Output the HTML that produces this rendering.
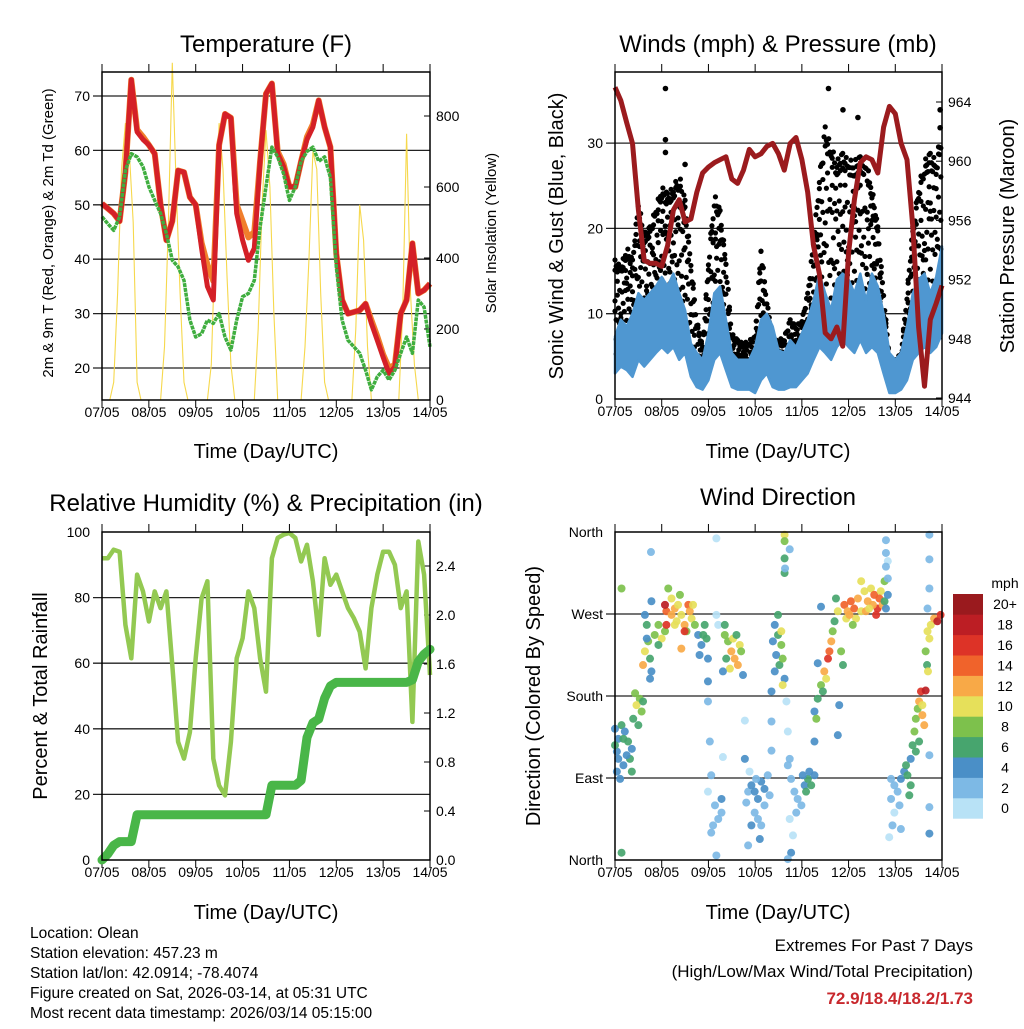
<!DOCTYPE html>
<html><head><meta charset="utf-8"><style>
html,body{margin:0;padding:0;background:#fff;}
svg text{font-family:"Liberation Sans",Arial,sans-serif;fill:#000;}
</style></head><body>
<svg id="fig" width="1024" height="1024" viewBox="0 0 1024 1024" xmlns="http://www.w3.org/2000/svg">
<rect x="0" y="0" width="1024" height="1024" fill="#fff"/>
<g id="g1"></g>
<g id="g2"></g>
<g id="g3"></g>
<g id="g4"></g>
<text x="266" y="52" font-size="24" text-anchor="middle">Temperature (F)</text>
<text x="778" y="52" font-size="24" text-anchor="middle">Winds (mph) &amp; Pressure (mb)</text>
<text x="266" y="511" font-size="24" text-anchor="middle">Relative Humidity (%) &amp; Precipitation (in)</text>
<text x="778" y="505" font-size="24" text-anchor="middle">Wind Direction</text>
<text x="266" y="458" font-size="20" text-anchor="middle">Time (Day/UTC)</text>
<text x="778" y="458" font-size="20" text-anchor="middle">Time (Day/UTC)</text>
<text x="266" y="919" font-size="20" text-anchor="middle">Time (Day/UTC)</text>
<text x="778" y="919" font-size="20" text-anchor="middle">Time (Day/UTC)</text>
<text transform="translate(53,233) rotate(-90)" font-size="15" text-anchor="middle">2m &amp; 9m T (Red, Orange) &amp; 2m Td (Green)</text>
<text transform="translate(496,233) rotate(-90)" font-size="15" text-anchor="middle">Solar Insolation (Yellow)</text>
<text transform="translate(563,236) rotate(-90)" font-size="20" text-anchor="middle">Sonic Wind &amp; Gust (Blue, Black)</text>
<text transform="translate(1014,236) rotate(-90)" font-size="20" text-anchor="middle">Station Pressure (Maroon)</text>
<text transform="translate(47,696) rotate(-90)" font-size="20" text-anchor="middle">Percent &amp; Total Rainfall</text>
<text transform="translate(540,696) rotate(-90)" font-size="20" text-anchor="middle">Direction (Colored By Speed)</text>
<g font-size="15.5">
<text x="30" y="938">Location: Olean</text>
<text x="30" y="958">Station elevation: 457.23 m</text>
<text x="30" y="978">Station lat/lon: 42.0914; -78.4074</text>
<text x="30" y="998">Figure created on Sat, 2026-03-14, at 05:31 UTC</text>
<text x="30" y="1018">Most recent data timestamp: 2026/03/14 05:15:00</text>
</g>
<text x="973" y="951" font-size="17" text-anchor="end">Extremes For Past 7 Days</text>
<text x="973" y="977" font-size="17" text-anchor="end">(High/Low/Max Wind/Total Precipitation)</text>
<text x="973" y="1004" font-size="17" font-weight="bold" text-anchor="end" style="fill:#c8282d">72.9/18.4/18.2/1.73</text>
</svg>
<script>
// ---- data (3-hourly, 57 values over 7 days) ----
const dayLabels = ["07/05","08/05","09/05","10/05","11/05","12/05","13/05","14/05"];
const temp2m = [50.2,49.3,48.4,47,56,73,63.4,62,61,59.4,50,43.5,47,56.3,56,51.4,50,42,35,32.5,61,66.7,66,48.4,43.5,39.8,42,58,70.4,72.3,59.4,57,53.3,53.3,58,62,64.3,69.2,64.3,60.6,41,32.5,30,30.3,30.6,31.8,28.2,25.1,22,19,20.2,30,32.5,42.9,33.7,34.3,35.5];
const temp9m = [50.2,49.3,48.4,47,56,73,63.8,62.5,61,59.4,50,43.5,47,56.3,56,51.4,50,43,39,36,61,66.7,66,50,47,44,45,58,70.4,72.3,59.8,57.5,53.3,53.3,58,62.5,64.8,69.2,64.3,60.6,41,32.5,30,30.3,30.6,31.8,28.8,25.8,22.5,20,20.6,30,32.5,42.9,33.7,34.3,35.5];
const dewpt = [47.8,46.5,45.3,47.8,56.3,59.4,58.8,57,53.3,50.8,48.4,44.7,39.8,38.6,36.1,28.8,25.7,26.3,28.8,28.2,30,25.7,23.3,28.8,33.1,33.7,36.1,45.9,53.3,60.6,58.8,55.7,50.8,53.3,58,59.8,60.6,58,58.8,55,38.6,28.8,25.1,23.9,22.7,19.6,16,18.4,19.6,17.8,19.6,22.7,25.7,22.7,32.5,31.2,23.9];
// solar insolation, 2-hourly (85 values)
const solar = [0,0,0,50,300,650,780,700,500,50,0,0, 0,0,0,0,150,500,950,600,300,50,0,0, 0,0,0,0,100,450,780,650,350,100,0,0, 0,0,0,0,200,550,760,600,250,0,0,0, 0,0,0,0,150,400,700,650,300,50,0,0, 0,0,0,0,0,200,550,450,150,0,0,0, 0,0,0,0,0,250,750,300,100,0,0,0, 0];
const pressure = [965,964.1,962.6,961.2,956.7,953.3,953.1,953.1,952.9,954.3,956.7,957.4,955.9,956.1,957.9,959.2,959.6,959.9,960.1,960.3,958.8,958.5,959.4,960.8,960.3,960.5,961,961.2,960.5,959.4,961.2,961.6,960.1,957.9,954.3,952.4,948.4,948,948.8,947.5,953.8,957.4,959.9,960.3,960.1,959.2,962.3,963.7,963.2,961.2,960.1,955.6,948.8,944.8,949.3,950.4,951.6];
const windHi = [7.3,9.3,8.5,10,12.4,11.6,12.4,13.2,14.3,13.2,14.7,12.4,10.4,6.5,5.4,4.6,7.7,12.4,13.2,9.3,5.4,4.6,4.6,4.6,6.1,9.3,10,8.5,5.7,5.4,6.9,6.1,7.7,9.3,11.5,14.7,12.4,10.4,14,14.7,14,12.4,14.7,11.5,14.7,13.2,10,5.4,4.6,5.4,8.5,12.4,14,14.7,12.4,14.3,17.9];
const windLo = [3,3.8,3.4,2.6,4.6,3.8,4.6,5.4,6.1,5.4,6.1,4.6,5.4,2.6,1.4,1.1,2.2,4.6,5.4,3.4,1.4,1.1,1.1,1.1,0.7,2.2,3,1.4,1.1,1.1,1.4,1.4,2.2,3,4.6,6.1,5.4,4.6,6.1,6.9,6.1,5.4,6.9,5.4,6.1,5.4,3,0.7,0.7,1.1,2.2,4.6,5.4,6.1,5.4,6.1,7.7];
const gustTop = [16.3,15.5,17.9,16.3,23.3,19.4,20.2,22.5,24.9,24.1,24.9,26.4,23.3,16.3,9.3,6.1,16.3,24.1,22.1,16.3,7.7,6.9,6.5,6.9,7.3,17.9,11.6,6.9,6.9,7.3,9.3,8.5,9.3,12.4,18.6,26.1,31.9,29.6,28,28.8,28,28,28.4,28,24.9,20.2,12.4,4.6,4.6,5.4,12.4,20.2,24.9,28,28.8,28,31.9];
const gustOutDay = [1.08,1.08,1.08,4.57,4.88,6.96,6.96,1.5,5.2];
const gustOutVal = [36.4,30.4,28.9,36.4,33.9,33.9,31.8,27.5,33];
const rh = [92,92,94.6,94,71.7,61.5,87,81.9,72.7,81.9,76.8,81.9,59.4,36,30.9,39,61.5,79.8,85,30.9,22.7,19.7,36,61.5,67.6,81.9,76.8,61.5,51.3,92,98.2,99.2,99.7,98.2,91,96.1,85,68.6,92,83.9,87,81.9,76.8,73.7,69.6,58.4,76.8,87,94,94,90,76.8,81.9,42.1,97.1,87,56.4];
const rain = [0,0.05,0.12,0.15,0.15,0.15,0.37,0.37,0.37,0.37,0.37,0.37,0.37,0.37,0.37,0.37,0.37,0.37,0.37,0.37,0.37,0.37,0.37,0.37,0.37,0.37,0.37,0.37,0.37,0.61,0.61,0.61,0.61,0.61,0.65,1.0,1.12,1.15,1.32,1.42,1.45,1.45,1.45,1.45,1.45,1.45,1.45,1.45,1.45,1.45,1.45,1.45,1.45,1.47,1.62,1.68,1.72];
// wind direction observations
const dirDay = [0,.07,.04,.14,.21,.28,.36,.07,.18,.32,0,.25,.11,.36,.04,.18,
 .43,.53,.46,.57,.39,.50,.60, .14,.14,
 .64,.68,.71,.60,.75,.78,.64,.85,.93,1.0,1.07,1.10,1.07,1.10,.78,.75,.68,.93,
 1.14,1.21,1.28,1.35,1.42,1.57,1.49,1.39,1.64,1.21,1.32,1.53,1.42,1.60,1.49,1.71,1.28,1.67, .77,
 1.78,1.85,1.92,1.99,1.89,1.81,1.96,
 1.99,2.03,2.06,1.99,2.14,2.21,2.06,2.28,2.17,2.10,2.28,1.99,2.31,2.17,2.17,2.21,
 2.35,2.42,2.49,2.56,2.63,2.53,2.67,2.38,2.46,2.60,2.70,2.31,2.35,2.74,
 2.85,2.92,2.99,3.06,3.13,3.20,3.27,2.99,3.06,2.92,2.85,3.13,2.81,3.20,2.88,3.02,3.31,3.10,2.78,
 2.78,3.35,3.35,3.35,
 3.42,3.49,3.56,3.45,3.52,3.59,3.42,3.63,3.49,3.56,3.38,3.59,
 3.63,3.63,3.63,3.63,3.74,3.64,
 3.70,3.77,3.84,3.91,3.99,4.06,4.13,4.20,4.27,3.74,3.81,3.77,3.70,3.88,4.09,4.16,4.02,3.67,3.70,3.74,4.27,
 4.27,4.34,4.41,4.48,4.56,4.59,4.63,4.66,4.70,4.77,4.84,4.88,4.45,4.31,4.52,4.41,4.73,4.80,4.77,4.34,
 4.91,4.98,5.05,5.12,5.20,5.27,5.34,5.41,5.48,5.55,5.62,5.69,5.77,5.73,5.59,5.16,4.95,5.09,5.37,5.52,5.66,5.27,5.77,5.84,5.84,5.80,5.02,5.44,
 5.80,5.80,5.84,5.80,
 5.91,5.98,6.05,6.12,6.19,6.26,6.33,5.91,5.98,6.09,5.94,6.12,5.87,6.30,6.23,
 6.33,6.37,6.41,6.44,6.48,6.51,6.55,6.58,6.62,6.51,6.44,6.65,6.58,
 6.65,6.69,6.76,6.83,6.90,6.97,6.73,6.68,6.70,6.69,6.73,6.73,6.73,6.73,6.73,6.73];
const dirDeg = [144,133,119,148,141,130,122,111,104,111,126,115,89,97,97,133,
 183,177,170,163,155,148,174, 298,8,
 269,258,240,214,221,207,229,247,258,243,251,273,280,258,284,199,243,236,
 298,287,276,280,269,280,258,291,265,269,262,251,232,273,251,258,258,280, 338,
 247,236,258,221,247,225,243,
 174,130,93,75,60,45,30,67,5,38,52,196,113,353,269,258,
 247,240,229,221,214,243,236,221,210,247,229,207,258,203,
 75,82,75,67,86,78,93,52,45,38,16,38,63,60,97,89,71,23,111,
 153,152,120,185,
 258,247,236,225,214,221,207,199,269,251,240,192,
 357,350,331,315,341,320,
 104,89,75,67,60,82,89,82,93,45,27,8,1,52,75,97,93,174,141,111,130,
 163,177,192,207,221,229,240,251,262,273,229,214,185,155,199,278,287,170,137,216,
 280,273,284,276,287,273,295,284,298,291,276,295,306,280,269,265,265,258,273,280,287,306,284,291,309,276,269,276,
 351,337,328,322,
 89,82,75,89,97,93,82,67,52,60,38,34,25,71,104,
 111,126,141,155,166,174,185,159,148,130,119,186,170,
 229,251,258,265,262,269,243,214,207,276,357,330,298,115,58,29];
const dirSpd = [4,4,4,6,4,6,4,4,4,6,6,4,4,6,4,6,
 8,8,10,8,6,6,6, 8,6,
 4,6,8,12,6,4,10,8,8,10,8,14,18,16,4,4,4,6,
 8,10,12,10,10,14,12,8,10,12,10,8,12,12,16,8,10,10, 2,
 4,4,6,4,6,4,6,
 2,2,2,0,2,2,2,4,2,2,2,4,0,0,0,0,
 8,8,12,12,12,10,10,6,10,6,8,4,6,4,
 2,4,4,4,4,4,2,2,2,4,2,2,2,2,0,2,2,4,4,
 0,2,2,4,
 4,6,8,4,6,8,4,4,6,10,4,10,
 10,8,6,6,2,2,
 2,2,2,2,2,4,6,6,4,0,0,4,2,2,6,4,4,0,0,2,4,
 4,6,8,12,16,14,12,8,6,10,8,6,6,8,10,4,6,4,4,4,
 14,12,14,14,12,10,10,12,10,14,16,10,8,12,16,10,10,8,12,12,14,10,6,4,2,4,12,10,
 2,2,0,2,
 2,2,2,4,4,6,6,2,0,2,2,2,0,6,6,
 4,6,8,8,8,12,16,12,12,6,6,18,10,
 8,10,10,12,18,16,10,6,10,2,2,2,2,2,2,4];
const speedLabels = ["0","2","4","6","8","10","12","14","16","18","20+"];
const speedColors = ["#b8e2f6","#7db9e5","#4a8fc7","#47a56e","#7dc14c","#e6e05a","#f8a947","#f0632b","#dd3327","#bc1e24","#9a1a1e"];

// ---- helpers ----
const NS = "http://www.w3.org/2000/svg";
function mk(parent, tag, attrs){
  const e = document.createElementNS(NS, tag);
  for (const k in attrs) e.setAttribute(k, attrs[k]);
  parent.appendChild(e);
  return e;
}
function lin(d0,d1,r0,r1){ return v => r0 + (v-d0)*(r1-r0)/(d1-d0); }
function pathFrom(xs, ys){ return xs.map((x,i)=>(i?"L":"M")+x.toFixed(1)+","+ys[i].toFixed(1)).join(""); }

function frame(g, box, name){
  const xs = lin(0,7,box.x0,box.x1);
  dayLabels.forEach((lab,i)=>{
    const x = xs(i);
    const t1 = mk(g,"line",{x1:x,x2:x,y1:box.y1,y2:box.y1+8,stroke:"#000","stroke-width":1});
    
    
    mk(g,"line",{x1:x,x2:x,y1:box.y0,y2:box.y0-8,stroke:"#000","stroke-width":1});
    const t = mk(g,"text",{x:x,y:box.y1+17,"font-size":14,"text-anchor":"middle"});
    t.textContent = lab;
    
    
  });
  return xs;
}
function hgrid(g, box, y){
  mk(g,"line",{x1:box.x0-9,x2:box.x1,y1:y,y2:y,stroke:"#222","stroke-width":1.3});
}
function ylab(g, x, y, txt, anchor, name){
  const t = mk(g,"text",{x:x,y:y+5,"font-size":14,"text-anchor":anchor});
  t.textContent = txt;
  
  
}
function border(g, box, name){
  const r = mk(g,"rect",{x:box.x0,y:box.y0,width:box.x1-box.x0,height:box.y1-box.y0,fill:"none",stroke:"#000","stroke-width":1.5});
  
  
}
function rightTicks(g, box, vals, ys, fmt, name){
  vals.forEach(v=>{
    const y = ys(v);
    mk(g,"line",{x1:box.x1-6,x2:box.x1,y1:y,y2:y,stroke:"#000","stroke-width":1});
    ylab(g, box.x1+6, y, fmt(v), "start", name);
  });
}
const t3 = (n,step)=>Array.from({length:n},(_,i)=>i*step);

// ===== Panel 1: Temperature =====
(function(){
  const g = document.getElementById("g1");
  const box = {x0:102,x1:430,y0:72,y1:400};
  const xs = frame(g, box, "temp");
  const yT = lin(20,70,368,96);
  const yS = lin(0,800,400,116);
  [20,30,40,50,60,70].forEach(v=>{ hgrid(g,box,yT(v)); ylab(g, box.x0-12, yT(v), String(v), "end", "temp-y-tick-label"); });
  rightTicks(g, box, [0,200,400,600,800], yS, String, "solar-y-tick-label");
  const sx = t3(solar.length, 1/12).map(xs);
  const sp = mk(g,"path",{d:pathFrom(sx, solar.map(yS)),fill:"none",stroke:"#f6d84c","stroke-width":1.1});
  
  
  const tx = t3(temp2m.length, 1/8).map(xs);
  const o = mk(g,"path",{d:pathFrom(tx, temp9m.map(yT)),fill:"none",stroke:"#f07f2c","stroke-width":6,"stroke-linejoin":"round"});
  
  
  const r = mk(g,"path",{d:pathFrom(tx, temp2m.map(yT)),fill:"none",stroke:"#d42027","stroke-width":5,"stroke-linejoin":"round"});
  
  
  const d = mk(g,"path",{d:pathFrom(tx, dewpt.map(yT)),fill:"none",stroke:"#3fae3f","stroke-width":3.5,"stroke-dasharray":"4 0.8","stroke-linejoin":"round"});
  
  
  border(g, box, "temp");
})();

// ===== Panel 2: Winds & Pressure =====
(function(){
  const g = document.getElementById("g2");
  const box = {x0:615,x1:942,y0:72,y1:399};
  const xs = frame(g, box, "winds");
  const yW = lin(0,10,399,313.7);
  const yP = lin(944,964,398,102);
  [10,20,30].forEach(v=>hgrid(g,box,yW(v)));
  [0,10,20,30].forEach(v=>ylab(g, box.x0-12, yW(v), String(v), "end", "wind-y-tick-label"));
  rightTicks(g, box, [944,948,952,956,960,964], yP, String, "pressure-y-tick-label");
  const tx = t3(windHi.length, 1/8);
  const gg = mk(g,"g",{fill:"#000"});
  
  
  const fr = [0.1,0.3,0.5,0.7,0.9,0.2,0.6,0.4,0.8,0.05,0.95,0.35,0.65];
  const SUB = 5, PER = 4;
  for (let i=0;i<gustTop.length-1;i++){
    for (let j=0;j<SUB;j++){
      const f = j/SUB;
      const top = gustTop[i]+(gustTop[i+1]-gustTop[i])*f;
      const lo = windHi[i]+(windHi[i+1]-windHi[i])*f - 3;
      for (let k=0;k<PER;k++){
        const q = fr[(i*5+j*3+k*2)%fr.length];
        const v = lo + (top-lo)*(k===0?1-0.05*((i+j)%3):q);
        mk(gg,"circle",{cx:xs(tx[i]+f/8),cy:yW(v),r:2.6});
      }
    }
  }
  gustOutDay.forEach((d,i)=>mk(gg,"circle",{cx:xs(d),cy:yW(gustOutVal[i]),r:2.8}));
  const xsArr = tx.map(xs);
  const hiPts = windHi.map((v,i)=>xsArr[i].toFixed(1)+","+yW(v).toFixed(1));
  const loPts = windLo.map((v,i)=>xsArr[i].toFixed(1)+","+yW(v).toFixed(1)).reverse();
  const band = mk(g,"polygon",{points:hiPts.concat(loPts).join(" "),fill:"#4f97d1",stroke:"#4f97d1","stroke-width":2.5,"stroke-linejoin":"round"});
  
  
  const p = mk(g,"path",{d:pathFrom(xsArr, pressure.map(yP)),fill:"none",stroke:"#9b1b1e","stroke-width":5,"stroke-linejoin":"round"});
  
  
  border(g, box, "winds");
})();

// ===== Panel 3: RH & Precip =====
(function(){
  const g = document.getElementById("g3");
  const box = {x0:102,x1:430,y0:532,y1:860};
  const xs = frame(g, box, "humidity");
  const yH = lin(0,100,860,532);
  const yR = lin(0,2.4,860,566);
  [20,40,60,80].forEach(v=>hgrid(g,box,yH(v)));
  [0,20,40,60,80,100].forEach(v=>ylab(g, box.x0-12, yH(v), String(v), "end", "humidity-y-tick-label"));
  rightTicks(g, box, [0,0.4,0.8,1.2,1.6,2.0,2.4], yR, v=>v.toFixed(1), "rain-y-tick-label");
  const tx = t3(rh.length, 1/8).map(xs);
  const h = mk(g,"path",{d:pathFrom(tx, rh.map(yH)),fill:"none",stroke:"#93c952","stroke-width":4.5,"stroke-linejoin":"round"});
  
  
  const rr = mk(g,"path",{d:pathFrom(tx, rain.map(yR)),fill:"none",stroke:"#49b648","stroke-width":9,"stroke-linejoin":"round","stroke-linecap":"round"});
  
  
  border(g, box, "humidity");
})();

// ===== Panel 4: Wind direction =====
(function(){
  const g = document.getElementById("g4");
  const box = {x0:615,x1:942,y0:532,y1:860};
  const xs = frame(g, box, "direction");
  const yD = lin(0,360,860,532);
  [90,180,270].forEach(v=>hgrid(g,box,yD(v)));
  const dirNames = ["North","East","South","West","North"];
  dirNames.forEach((n,i)=>ylab(g, box.x0-12, yD(i*90), n, "end", "direction-y-tick-label"));
  const pg = mk(g,"g",{});
  
  
  dirDay.forEach((d,i)=>{
    const ci = Math.min(10, Math.round(dirSpd[i]/2));
    const c = mk(pg,"circle",{cx:xs(d),cy:yD(dirDeg[i]),r:4,fill:speedColors[ci],"fill-opacity":0.92});
    
    
  });
  border(g, box, "direction");
  const cb = mk(g,"g",{});
  
  
  const top = 594, h = 20.4;
  const mph = mk(cb,"text",{x:1005,y:588,"font-size":14,"text-anchor":"middle"});
  mph.textContent = "mph";
  
  
  speedLabels.forEach((lab,i)=>{
    const k = speedLabels.length-1-i;
    const y = top + k*h;
    const r = mk(cb,"rect",{x:953,y:y,width:30,height:h+0.3,fill:speedColors[i]});
    
    
    const t = mk(cb,"text",{x:1005,y:y+h/2+5,"font-size":14,"text-anchor":"middle"});
    t.textContent = lab;
    
    
  });
})();
</script>
</body></html>
